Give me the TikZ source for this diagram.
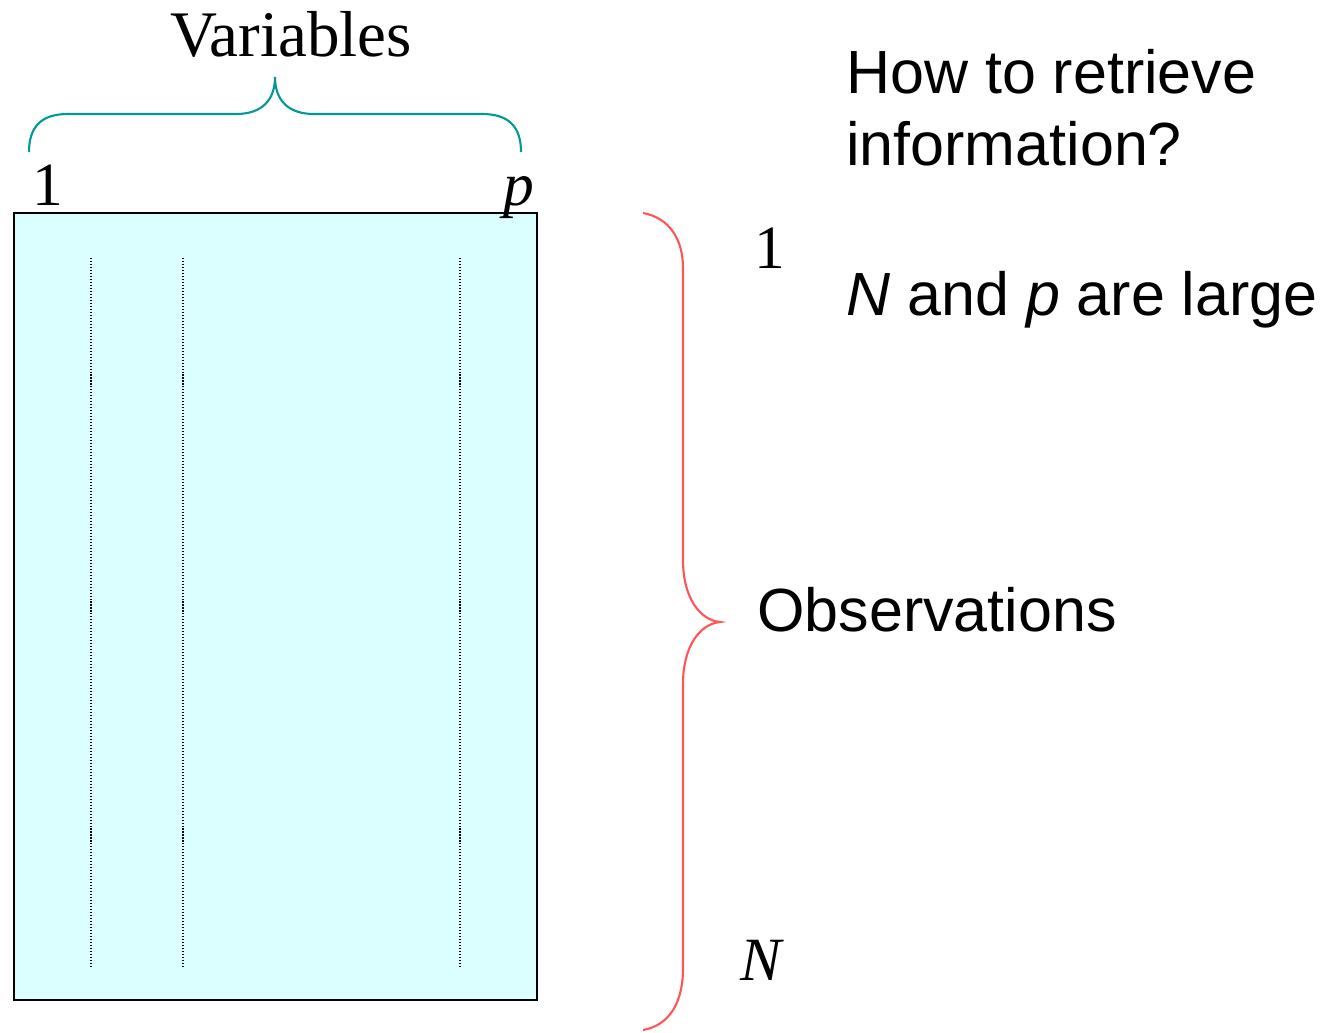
\documentclass[tikz,border=0pt]{standalone}
\usepackage{fontspec}
\setmainfont{Liberation Serif}
\setsansfont{Liberation Sans}
\usetikzlibrary{positioning}

\definecolor{cellfill}{HTML}{DBFFFF}
\definecolor{varteal}{HTML}{009999}
\definecolor{obsred}{HTML}{FF5555}

\tikzset{
  serif/.style={font=\fontsize{35}{41}\selectfont, inner sep=0pt},
  sans/.style={font=\sffamily\fontsize{34.7}{41}\selectfont, inner sep=0pt},
  colsep/.style={line width=0.75pt, dash pattern=on 0.6pt off 1.1pt},
  bracepath/.style={line width=1.2pt},
}

\begin{document}
\begin{tikzpicture}[x=0.02cm, y=-0.02cm]
    \useasboundingbox (0,0) rectangle (1327,1032);

    % data matrix
    \node[draw, fill=cellfill, line width=0.8pt, inner sep=0pt, outer sep=0pt,
          minimum width=10.46cm, minimum height=15.74cm] (data) at (275.5,606.5) {};
    \foreach \x in {91,183,460}
        \draw[colsep] (\x,258) -- (\x,968);

    % variables brace
    \coordinate (vl) at (29,152);
    \coordinate (vt) at (275,77);
    \coordinate (vr) at (521,152);
    \draw[bracepath, varteal] (vl) .. controls (29,126) and (42,114) .. (68,114) -- (236,114)
        .. controls (262,114) and (275,100) .. (vt)
        .. controls (275,100) and (288,114) .. (314,114) -- (482,114)
        .. controls (508,114) and (521,126) .. (vr);
    \node[serif, anchor=base, font=\fontsize{37}{43}\selectfont] (vars) at (291,56) {Variables};
    \node[serif, anchor=base] (colone) at (48,205) {1};
    \node[serif, anchor=base] (colp) at (519,205) {\textit{p}};

    % observations brace
    \coordinate (ot) at (643,213);
    \coordinate (om) at (720,622);
    \coordinate (ob) at (643,1030);
    \draw[bracepath, obsred] (ot) .. controls (670,218) and (683,240) .. (683,268) -- (683,560)
        .. controls (683,598) and (700,620) .. (om)
        .. controls (700,624) and (683,646) .. (683,684) -- (683,968)
        .. controls (683,1002) and (670,1025) .. (ob);
    \node[serif, anchor=base] (rowone) at (770,268) {1};
    \node[serif, anchor=base] (rowN) at (762,980) {\textit{N}};
    \node[sans, anchor=base west] (obs) at (757,631) {Observations};

    % question
    \node[sans, anchor=base west] (how) at (846,93) {How to retrieve};
    \node[sans, anchor=base west] (info) at (846,165) {information?};
    \node[sans, anchor=base west] (large) at (846,315) {\textit{N} and \textit{p} are large};

\end{tikzpicture}
\end{document}
